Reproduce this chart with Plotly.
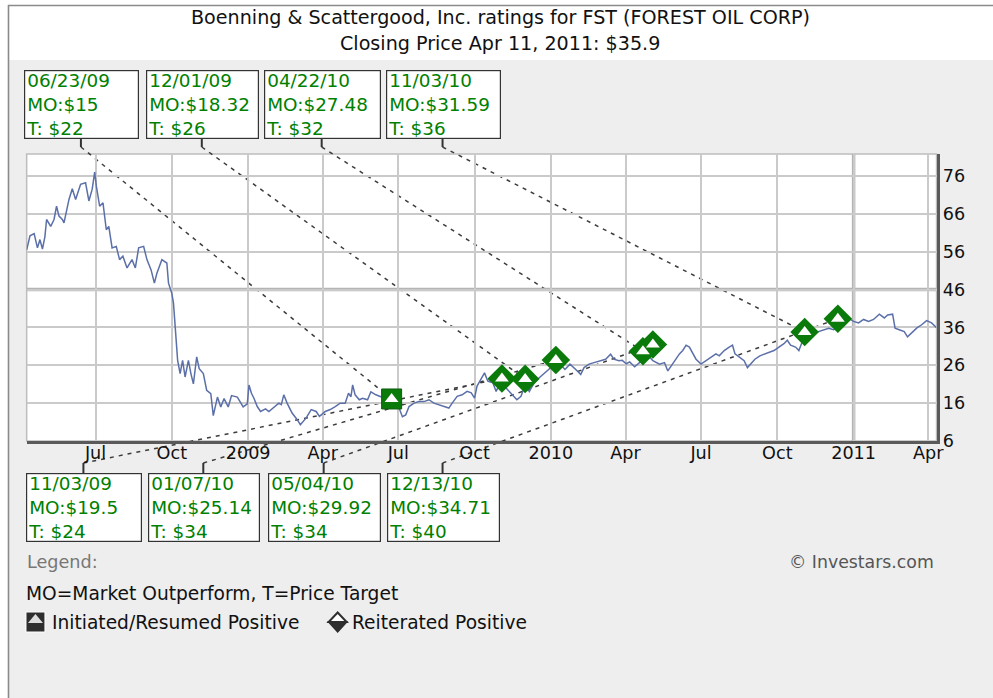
import pandas as pd
import plotly.graph_objects as go

# ---------------- data ----------------
price_dates = [
    "2008-04-09", "2008-04-13", "2008-04-18", "2008-04-22", "2008-04-25", "2008-04-28",
    "2008-05-01", "2008-05-03", "2008-05-08", "2008-05-12", "2008-05-15", "2008-05-18",
    "2008-05-22", "2008-05-24", "2008-05-30", "2008-06-03", "2008-06-07", "2008-06-13",
    "2008-06-19", "2008-06-23", "2008-06-27", "2008-06-30", "2008-07-02", "2008-07-06",
    "2008-07-10", "2008-07-14", "2008-07-17", "2008-07-21", "2008-07-26", "2008-07-30",
    "2008-08-03", "2008-08-08", "2008-08-14", "2008-08-18", "2008-08-22", "2008-08-28",
    "2008-09-01", "2008-09-06", "2008-09-10", "2008-09-13", "2008-09-19", "2008-09-25",
    "2008-09-27", "2008-10-01", "2008-10-03", "2008-10-05", "2008-10-08", "2008-10-11",
    "2008-10-14", "2008-10-17", "2008-10-21", "2008-10-24", "2008-10-27", "2008-10-31",
    "2008-11-03", "2008-11-08", "2008-11-12", "2008-11-17", "2008-11-20", "2008-11-25",
    "2008-11-29", "2008-12-03", "2008-12-08", "2008-12-12", "2008-12-19", "2008-12-26",
    "2008-12-31", "2009-01-02", "2009-01-05", "2009-01-08", "2009-01-12", "2009-01-16",
    "2009-01-22", "2009-01-26", "2009-02-01", "2009-02-07", "2009-02-10", "2009-02-13",
    "2009-02-17", "2009-02-23", "2009-03-01", "2009-03-05", "2009-03-12", "2009-03-18",
    "2009-03-24", "2009-03-28", "2009-04-04", "2009-04-10", "2009-04-16", "2009-04-22",
    "2009-04-28", "2009-05-02", "2009-05-05", "2009-05-07", "2009-05-10", "2009-05-15",
    "2009-05-19", "2009-05-25", "2009-05-29", "2009-06-04", "2009-06-10", "2009-06-16",
    "2009-06-22", "2009-06-26", "2009-07-02", "2009-07-06", "2009-07-10", "2009-07-14",
    "2009-07-20", "2009-07-26", "2009-08-01", "2009-08-07", "2009-08-13", "2009-08-19",
    "2009-08-25", "2009-08-31", "2009-09-04", "2009-09-10", "2009-09-16", "2009-09-22",
    "2009-09-27", "2009-10-01", "2009-10-04", "2009-10-07", "2009-10-13", "2009-10-17",
    "2009-10-23", "2009-10-27", "2009-11-03", "2009-11-08", "2009-11-15", "2009-11-21",
    "2009-11-26", "2009-12-01", "2009-12-06", "2009-12-12", "2009-12-18", "2009-12-25",
    "2010-01-01", "2010-01-07", "2010-01-12", "2010-01-18", "2010-01-24", "2010-01-31",
    "2010-02-06", "2010-02-10", "2010-02-16", "2010-02-22", "2010-03-02", "2010-03-08",
    "2010-03-14", "2010-03-18", "2010-03-24", "2010-03-28", "2010-04-02", "2010-04-06",
    "2010-04-12", "2010-04-18", "2010-04-22", "2010-04-30", "2010-05-04", "2010-05-12",
    "2010-05-18", "2010-05-22", "2010-05-26", "2010-06-01", "2010-06-05", "2010-06-09",
    "2010-06-13", "2010-06-17", "2010-06-21", "2010-06-25", "2010-07-01", "2010-07-07",
    "2010-07-13", "2010-07-19", "2010-07-23", "2010-07-29", "2010-08-04", "2010-08-08",
    "2010-08-11", "2010-08-16", "2010-08-22", "2010-08-26", "2010-08-30", "2010-09-04",
    "2010-09-10", "2010-09-16", "2010-09-22", "2010-09-27", "2010-10-03", "2010-10-09",
    "2010-10-13", "2010-10-17", "2010-10-23", "2010-10-27", "2010-10-31", "2010-11-06",
    "2010-11-14", "2010-11-20", "2010-11-26", "2010-12-02", "2010-12-08", "2010-12-14",
    "2010-12-20", "2010-12-26", "2011-01-01", "2011-01-07", "2011-01-13", "2011-01-19",
    "2011-01-25", "2011-02-01", "2011-02-07", "2011-02-11", "2011-02-17", "2011-02-20",
    "2011-02-25", "2011-03-03", "2011-03-07", "2011-03-12", "2011-03-18", "2011-03-24",
    "2011-03-30", "2011-04-05", "2011-04-11",
]
price_values = [
    56.5, 60.2, 60.8, 57.0, 59.2, 56.7,
    60.0, 64.5, 62.7, 64.5, 68.0, 65.4,
    64.5, 63.6, 69.8, 72.6, 69.8, 73.8,
    74.2, 69.4, 72.5, 77.0, 73.3, 68.0,
    68.9, 61.8, 62.7, 57.0, 57.4, 53.9,
    54.8, 51.7, 53.9, 51.7, 57.0, 57.4,
    53.9, 51.2, 47.7, 50.3, 53.9, 53.0,
    47.7, 45.0, 42.4, 37.1, 27.3, 23.8,
    27.3, 22.9, 27.3, 23.8, 21.1, 28.2,
    25.1, 23.8, 19.4, 18.5, 12.7, 17.6,
    15.0, 17.2, 15.0, 18.0, 17.6, 15.0,
    15.8, 20.8, 18.6, 17.3, 15.1, 13.8,
    14.5, 13.8, 14.9, 16.0, 15.6, 18.2,
    16.0, 13.4, 11.7, 10.3, 12.1, 14.3,
    13.8, 12.5, 13.8, 14.3, 15.1, 16.0,
    16.0, 18.6, 17.7, 20.8, 18.2, 16.9,
    17.3, 16.9, 19.0, 18.2, 17.7, 17.5,
    17.3, 17.0, 14.7, 12.4, 12.9, 15.1,
    16.0, 16.4, 16.4, 16.9, 16.0, 15.5,
    15.1, 14.7, 16.0, 17.8, 18.2, 19.1,
    18.7, 17.3, 20.5, 21.8, 24.0, 21.8,
    21.4, 19.1, 22.3, 20.0, 18.2, 16.9,
    17.8, 20.9, 19.1, 21.4, 22.7, 24.0,
    25.4, 27.2, 26.3, 24.9, 26.3, 24.9,
    23.6, 25.4, 26.3, 26.7, 27.2, 27.6,
    28.9, 27.6, 27.2, 27.3, 26.4, 26.9,
    25.6, 26.9, 27.5, 28.2, 27.2, 26.3,
    26.7, 24.5, 25.8, 27.6, 29.0, 29.9,
    31.3, 30.8, 29.0, 27.6, 26.3, 27.2,
    28.1, 29.0, 28.5, 29.9, 30.8, 31.3,
    29.0, 28.1, 27.2, 25.4, 26.3, 27.6,
    28.5, 29.0, 29.5, 29.9, 30.8, 31.7,
    32.6, 31.3, 30.8, 29.9, 32.2, 34.0,
    34.5, 34.9, 35.4, 35.8, 35.4, 36.3,
    37.6, 38.4, 37.6, 37.2, 38.1, 37.6,
    38.1, 39.5, 38.5, 39.3, 39.5, 35.8,
    35.4, 34.9, 33.5, 34.5, 35.8, 36.7,
    37.8, 37.2, 35.9,
]

rating_dates = ["2009-06-23", "2009-11-03", "2009-12-01", "2010-01-07",
                "2010-04-22", "2010-05-04", "2010-11-03", "2010-12-13"]
rating_labels = ["06/23/09", "11/03/09", "12/01/09", "01/07/10",
                 "04/22/10", "05/04/10", "11/03/10", "12/13/10"]
rating_mo = ["15", "19.5", "18.32", "25.14", "27.48", "29.92", "31.59", "34.71"]
rating_target = ["22", "24", "26", "34", "32", "34", "36", "40"]
rating_price = [17.1, 22.5, 22.4, 27.4, 29.7, 31.5, 34.8, 38.3]
rating_kind = ["Initiated", "Reiterated", "Reiterated", "Reiterated",
               "Reiterated", "Reiterated", "Reiterated", "Reiterated"]

x_tick_dates = ["2008-07-01", "2008-10-01", "2009-01-01", "2009-04-01", "2009-07-01",
                "2009-10-01", "2010-01-01", "2010-04-01", "2010-07-01", "2010-10-01",
                "2011-01-01", "2011-04-01"]
x_tick_text = ["Jul", "Oct", "2009", "Apr", "Jul", "Oct", "2010", "Apr", "Jul", "Oct",
               "2011", "Apr"]
y_ticks = [6, 16, 26, 36, 46, 56, 66, 76]

title_line1 = "Boenning &amp; Scattergood, Inc. ratings for FST (FOREST OIL CORP)"
title_line2 = "Closing Price Apr 11, 2011: $35.9"

# ---------------- layout geometry ----------------
# positions below are given in pixels of the 993x698 target picture; they are
# converted to paper fractions, so the figure size itself only sets the scale.
REF_W, REF_H = 993, 698
FIG_W, FIG_H = 1000, 708
FS = FIG_W / REF_W  # font scale


def pxx(x):
    return x / REF_W


def pxy(y):
    return 1 - y / REF_H


PLOT_L, PLOT_R, PLOT_T, PLOT_B = 26.7, 937.5, 154, 441
x_dom = [pxx(PLOT_L), pxx(PLOT_R)]
y_dom = [pxy(PLOT_B), pxy(PLOT_T)]
X_RANGE = ["2008-04-09", "2011-04-11"]
Y_RANGE = [6, 81.8]

X0, X1 = pd.Timestamp(X_RANGE[0]), pd.Timestamp(X_RANGE[1])


def date_to_paper(d):
    f = (pd.Timestamp(d) - X0) / (X1 - X0)
    return x_dom[0] + f * (x_dom[1] - x_dom[0])


def price_to_paper(v):
    f = (v - Y_RANGE[0]) / (Y_RANGE[1] - Y_RANGE[0])
    return y_dom[0] + f * (y_dom[1] - y_dom[0])


GREEN_TXT = "#008000"
GREEN_MK = "#0a7a0a"
LINE_BLUE = "#5b6fa9"
GRID = "#cacaca"
FONT = "DejaVu Sans"

fig = go.Figure()

# price line
fig.add_trace(go.Scatter(x=price_dates, y=price_values, mode="lines",
                         line=dict(color=LINE_BLUE, width=1.5)))

# rating markers
init_x = [d for d, k in zip(rating_dates, rating_kind) if k == "Initiated"]
init_y = [p for p, k in zip(rating_price, rating_kind) if k == "Initiated"]
reit_x = [d for d, k in zip(rating_dates, rating_kind) if k == "Reiterated"]
reit_y = [p for p, k in zip(rating_price, rating_kind) if k == "Reiterated"]

fig.add_trace(go.Scatter(x=init_x, y=init_y, mode="markers",
                         marker=dict(symbol="square", size=20, color=GREEN_MK,
                                     line=dict(color="#0f5f0f", width=1))))
fig.add_trace(go.Scatter(x=init_x, y=init_y, mode="markers",
                         marker=dict(symbol="triangle-up", size=12, color="white",
                                     line=dict(width=0))))
fig.add_trace(go.Scatter(x=reit_x, y=reit_y, mode="markers",
                         marker=dict(symbol="diamond", size=22, color=GREEN_MK,
                                     line=dict(width=0))))
fig.add_trace(go.Scatter(x=reit_x, y=reit_y, mode="markers",
                         marker=dict(symbol="triangle-up", size=12, color="white",
                                     line=dict(width=0))))

shapes = []
annotations = []

# gray page panel with frame, white title band
shapes.append(dict(type="rect", xref="paper", yref="paper", x0=pxx(8), x1=1.01,
                   y0=-0.01, y1=pxy(60), fillcolor="#eeeeee", line=dict(width=0),
                   layer="below"))
shapes.append(dict(type="line", xref="paper", yref="paper", x0=pxx(8.5), x1=pxx(8.5),
                   y0=-0.01, y1=pxy(5), line=dict(color="#8a8a8a", width=1.6), layer="below"))
shapes.append(dict(type="line", xref="paper", yref="paper", x0=pxx(8), x1=1.01,
                   y0=pxy(5.5), y1=pxy(5.5), line=dict(color="#8a8a8a", width=1.6),
                   layer="below"))
# white plot area
shapes.append(dict(type="rect", xref="paper", yref="paper", x0=x_dom[0], x1=x_dom[1],
                   y0=y_dom[0], y1=y_dom[1], fillcolor="white",
                   line=dict(color="#bdbdbd", width=1.5), layer="below"))
# thicker grid lines
shapes.append(dict(type="line", xref="x", yref="y", x0=X_RANGE[0], x1=X_RANGE[1],
                   y0=46, y1=46, line=dict(color="#b4b4b4", width=3.5), layer="below"))
shapes.append(dict(type="line", xref="x", yref="paper", x0="2011-01-01", x1="2011-01-01",
                   y0=y_dom[0], y1=y_dom[1], line=dict(color="#b4b4b4", width=3.5),
                   layer="below"))

# title
annotations.append(dict(x=pxx(501), y=pxy(18), xref="paper", yref="paper", text=title_line1,
                        showarrow=False, xanchor="center", yanchor="middle",
                        font=dict(family=FONT, size=19 * FS, color="#111111")))
annotations.append(dict(x=pxx(501), y=pxy(44), xref="paper", yref="paper", text=title_line2,
                        showarrow=False, xanchor="center", yanchor="middle",
                        font=dict(family=FONT, size=19 * FS, color="#111111")))

# rating boxes: top row gets ratings 0,2,4,6 ; bottom row gets 1,3,5,7
top_lefts = [24, 146, 264, 386]
top_widths = [114, 112, 116, 114]
bot_lefts = [26, 148, 268, 387]
bot_widths = [115, 111, 112, 112]
BOX_H = 69
TOP_Y, BOT_Y = 70, 473
PAD, BW = 1, 1.2

slots = []
for i in range(4):
    slots.append(("top", top_lefts[i], top_widths[i], 2 * i))
    slots.append(("bot", bot_lefts[i], bot_widths[i], 2 * i + 1))

for pos, left, w, idx in slots:
    top = TOP_Y if pos == "top" else BOT_Y
    txt = f"{rating_labels[idx]}<br>MO:${rating_mo[idx]}<br>T: ${rating_target[idx]}"
    annotations.append(dict(
        x=pxx(left), y=pxy(top), xref="paper", yref="paper", xanchor="left", yanchor="top",
        text=txt, showarrow=False, align="left", valign="middle",
        width=(w - 2 * PAD - 2 * BW) * FS, height=(BOX_H - 2 * PAD - 2 * BW) * FS,
        bordercolor="#333333", borderwidth=BW, borderpad=PAD, bgcolor="white",
        font=dict(family=FONT, size=18.3 * FS, color=GREEN_TXT)))
    cx = left + w / 2
    if pos == "top":
        c0, c1 = top + BOX_H, top + BOX_H + 8
        start_y = c1
    else:
        c0, c1 = top - 10, top
        start_y = c0
    shapes.append(dict(type="line", xref="paper", yref="paper", x0=pxx(cx), x1=pxx(cx),
                       y0=pxy(c0), y1=pxy(c1), line=dict(color="#333333", width=2)))
    # dashed leader to the rating marker
    shapes.append(dict(type="line", xref="paper", yref="paper",
                       x0=pxx(cx), y0=pxy(start_y),
                       x1=date_to_paper(rating_dates[idx]), y1=price_to_paper(rating_price[idx]),
                       line=dict(color="#3c3c3c", width=1.5, dash="4px,5px"), layer="below"))

# legend area
annotations.append(dict(x=pxx(25), y=pxy(562), xref="paper", yref="paper", text="Legend:",
                        showarrow=False, xanchor="left", yanchor="middle",
                        font=dict(family=FONT, size=17.5 * FS, color="#777777")))
annotations.append(dict(x=pxx(788), y=pxy(562), xref="paper", yref="paper",
                        text="© Investars.com", showarrow=False, xanchor="left",
                        yanchor="middle", font=dict(family=FONT, size=17.2 * FS,
                                                    color="#555555")))
annotations.append(dict(x=pxx(24), y=pxy(593), xref="paper", yref="paper",
                        text="MO=Market Outperform, T=Price Target", showarrow=False,
                        xanchor="left", yanchor="middle",
                        font=dict(family=FONT, size=18.5 * FS, color="#111111")))
annotations.append(dict(x=pxx(50), y=pxy(622), xref="paper", yref="paper",
                        text="Initiated/Resumed Positive", showarrow=False, xanchor="left",
                        yanchor="middle", font=dict(family=FONT, size=18.5 * FS,
                                                    color="#111111")))
annotations.append(dict(x=pxx(350), y=pxy(622), xref="paper", yref="paper",
                        text="Reiterated Positive", showarrow=False, xanchor="left",
                        yanchor="middle", font=dict(family=FONT, size=18.5 * FS,
                                                    color="#111111")))


def ppath(points):
    return "M " + " L ".join(f"{pxx(a):.5f},{pxy(b):.5f}" for a, b in points) + " Z"


# legend icons
shapes.append(dict(type="rect", xref="paper", yref="paper", x0=pxx(26), x1=pxx(45),
                   y0=pxy(632), y1=pxy(612), fillcolor="#2e2e2e",
                   line=dict(color="white", width=1)))
shapes.append(dict(type="path", xref="paper", yref="paper",
                   path=ppath([(28, 623), (35.5, 614), (43, 623)]),
                   fillcolor="#dddddd", line=dict(width=0)))
shapes.append(dict(type="path", xref="paper", yref="paper",
                   path=ppath([(329, 622), (338, 612.5), (347, 622)]),
                   fillcolor="white", line=dict(color="#2e2e2e", width=2)))
shapes.append(dict(type="path", xref="paper", yref="paper",
                   path=ppath([(329, 622), (338, 632), (347, 622)]),
                   fillcolor="#2e2e2e", line=dict(color="#2e2e2e", width=1.5)))

fig.update_layout(
    width=FIG_W, height=FIG_H,
    margin=dict(l=0, r=0, t=0, b=0, pad=0),
    paper_bgcolor="white", plot_bgcolor="rgba(0,0,0,0)",
    showlegend=False, hovermode=False,
    shapes=shapes, annotations=annotations,
    xaxis=dict(type="date", domain=x_dom, range=X_RANGE, tickvals=x_tick_dates,
               ticktext=x_tick_text, showgrid=True, gridcolor=GRID, gridwidth=2,
               showline=True, linecolor="#5a5a5a", linewidth=2.5, ticks="",
               ticklabelstandoff=-6,
               tickfont=dict(family=FONT, size=17.5 * FS, color="#111111"), zeroline=False,
               fixedrange=True),
    yaxis=dict(domain=y_dom, range=Y_RANGE, side="right", tickvals=y_ticks,
               ticktext=[str(v) for v in y_ticks], showgrid=True, gridcolor=GRID,
               gridwidth=2, showline=True, linecolor="#5a5a5a", linewidth=2.5, ticks="",
               tickfont=dict(family=FONT, size=17.5 * FS, color="#111111"), zeroline=False,
               fixedrange=True),
)

fig.write_html("out.html", config={"displayModeBar": False},
               post_script="document.body.style.margin='0px';"
                           "document.documentElement.style.overflow='hidden';")
